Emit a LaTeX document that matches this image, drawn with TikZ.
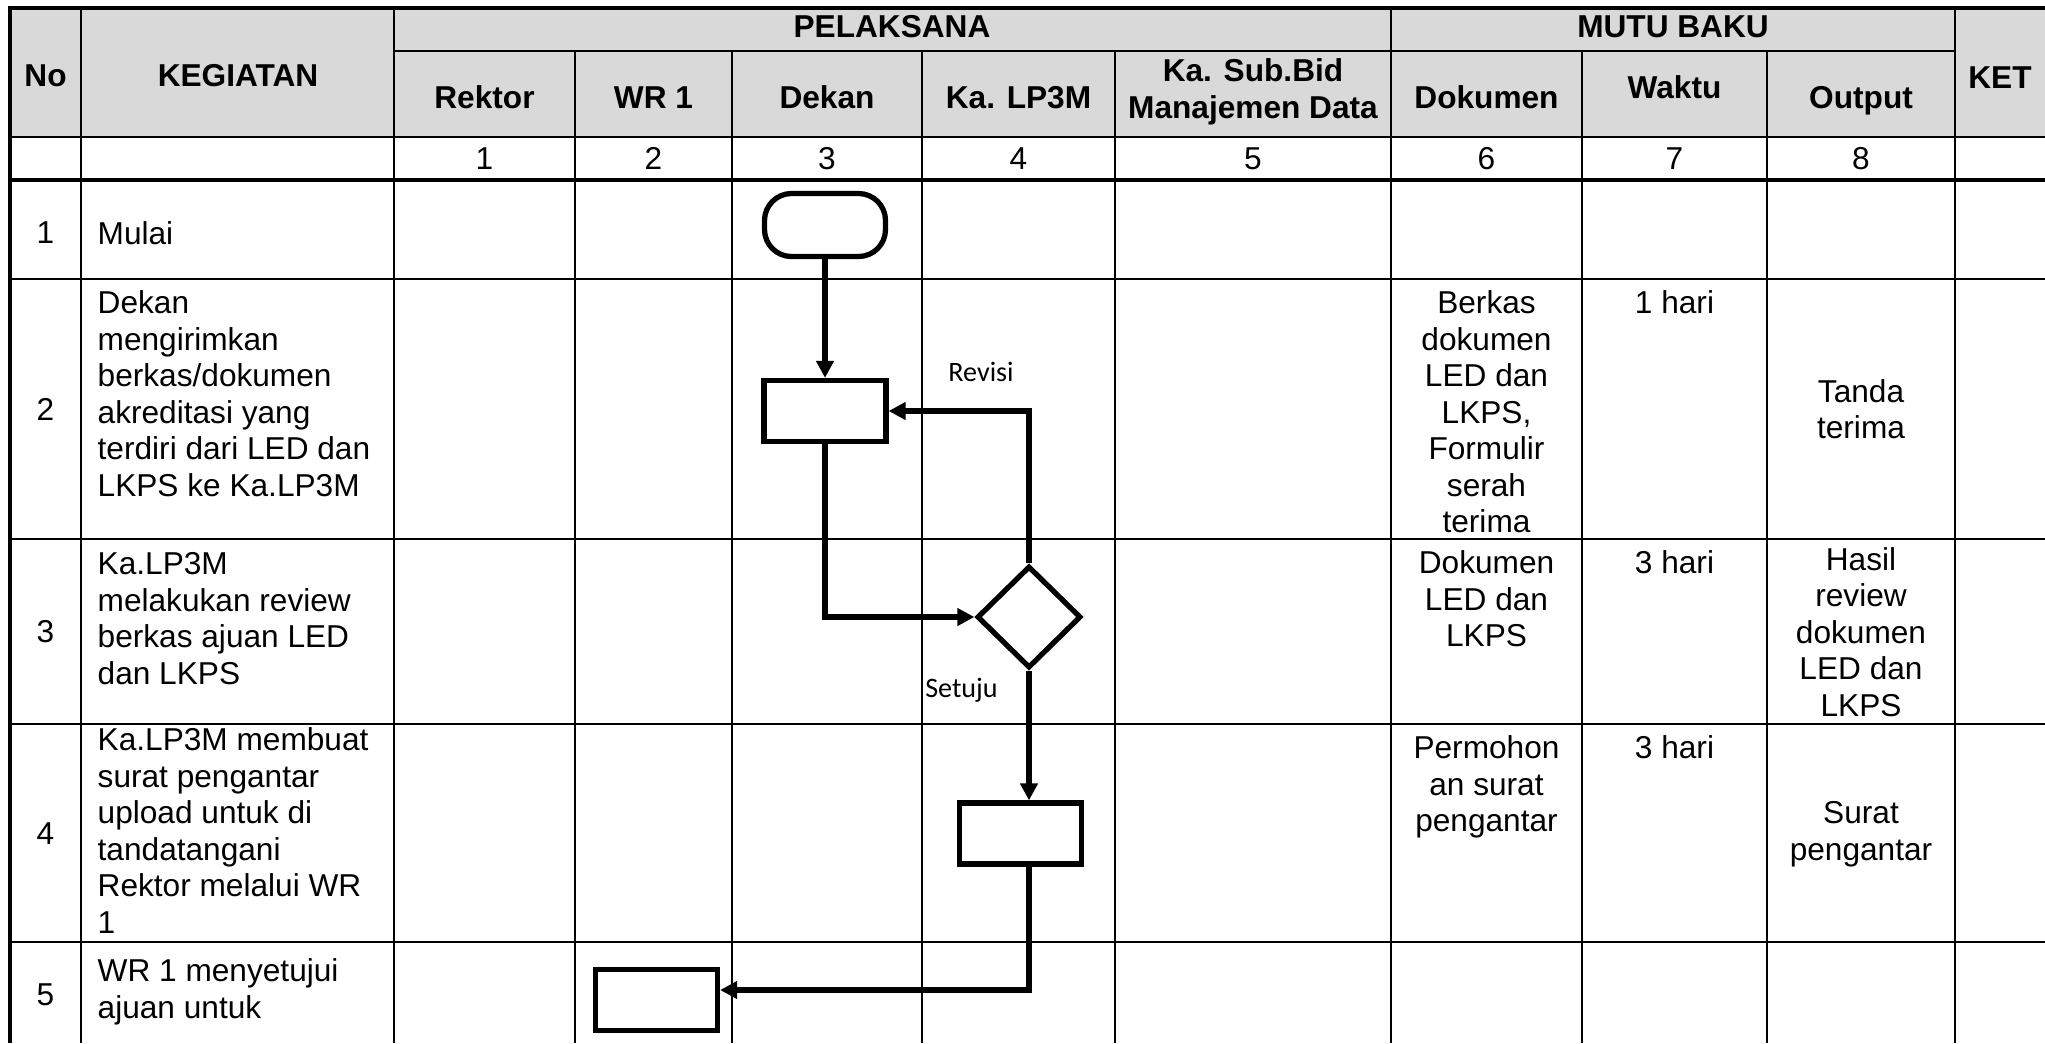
\documentclass[tikz,border=0pt]{standalone}
\usepackage{fontspec}
\setmainfont{Liberation Sans}
\newfontfamily\notefont{Carlito}
\usepackage{tikz}
\usetikzlibrary{arrows.meta, positioning, shapes.geometric}
\definecolor{sopgray}{RGB}{217,217,217}
\definecolor{sopink}{RGB}{0,0,0}
\tikzset{
  headtext/.style={
    font=\fontsize{9}{10.6}\selectfont\bfseries,
    align=center,
    inner sep=0pt,
    text=sopink
  },
  celltext/.style={
    font=\fontsize{9}{10.4}\selectfont,
    align=left,
    inner sep=0pt,
    text=sopink
  },
  midtext/.style={
    font=\fontsize{9}{10.4}\selectfont,
    align=center,
    inner sep=0pt,
    text=sopink
  },
  notetext/.style={font=\notefont\fontsize{8}{9.6}\selectfont, inner sep=0pt, text=sopink},
  gridline/.style={line width=0.75pt, draw=sopink},
  frameline/.style={line width=1.2pt, draw=sopink},
  procbox/.style={
    draw=sopink,
    line width=1.5pt,
    fill=white,
    minimum width=12.2mm,
    minimum height=6.1mm,
    inner sep=0pt
  },
  startbox/.style={procbox, rounded corners=2.7mm, minimum width=12.1mm, minimum height=6.3mm},
  decision/.style={
    draw=sopink,
    line width=1.5pt,
    fill=white,
    shape=diamond,
    minimum width=10.4mm,
    minimum height=10.2mm,
    inner sep=0pt
  },
  arrow/.style={-{Triangle[length=1.7mm, width=1.7mm]}, line width=1.5pt, draw=sopink}
}

\begin{document}
\begin{tikzpicture}[x=0.1mm, y=-0.1mm]
    \useasboundingbox (0,0) rectangle (2045,1043);
    \fill[sopgray] (10,8) rectangle (2045,137);

    % table grid
    \draw[gridline] (394,51) -- (1955,51);
    \draw[gridline] (10,137) -- (2045,137);
    \draw[gridline, line width=1pt] (10,180) -- (2045,180);
    \draw[gridline] (10,279) -- (2045,279);
    \draw[gridline] (10,539) -- (2045,539);
    \draw[gridline] (10,724) -- (2045,724);
    \draw[gridline] (10,942) -- (2045,942);
    \draw[gridline] (81,8) -- (81,1043);
    \draw[gridline] (394,8) -- (394,1043);
    \draw[gridline] (575,51) -- (575,1043);
    \draw[gridline] (732,51) -- (732,1043);
    \draw[gridline] (922,51) -- (922,1043);
    \draw[gridline] (1115,51) -- (1115,1043);
    \draw[gridline] (1391,8) -- (1391,1043);
    \draw[gridline] (1582,51) -- (1582,1043);
    \draw[gridline] (1767,51) -- (1767,1043);
    \draw[gridline] (1955,8) -- (1955,1043);
    \draw[frameline] (10,1043) -- (10,8) -- (2045,8);

    % header
    \node[headtext, anchor=base] (hno) at (45.5,86) {No};
    \node[headtext, anchor=base] (hkeg) at (238,86) {KEGIATAN};
    \node[headtext, anchor=base] (hket) at (2000,88) {KET};
    \node[headtext, anchor=base] (hpel) at (892,37.5) {PELAKSANA};
    \node[headtext, anchor=base] (hmutu) at (1673,37.5) {MUTU BAKU};
    \node[headtext, anchor=base] (hrektor) at (484.5,108) {Rektor};
    \node[headtext, anchor=base] (hwr) at (653.5,108) {WR 1};
    \node[headtext, anchor=base] (hdekan) at (827,108) {Dekan};
    \node[headtext, anchor=base] (hlp) at (1018.5,108) {Ka. LP3M};
    \node[headtext] (hsub) at (1253,92) {Ka. Sub.Bid\\Manajemen Data};
    \node[headtext, anchor=base] (hdok) at (1486.5,108) {Dokumen};
    \node[headtext, anchor=base] (hwaktu) at (1674.5,98) {Waktu};
    \node[headtext, anchor=base] (hout) at (1861,108) {Output};

    \node[midtext, anchor=base] (c1) at (484.5,169) {1};
    \node[midtext, anchor=base] (c2) at (653.5,169) {2};
    \node[midtext, anchor=base] (c3) at (827,169) {3};
    \node[midtext, anchor=base] (c4) at (1018.5,169) {4};
    \node[midtext, anchor=base] (c5) at (1253,169) {5};
    \node[midtext, anchor=base] (c6) at (1486.5,169) {6};
    \node[midtext, anchor=base] (c7) at (1674.5,169) {7};
    \node[midtext, anchor=base] (c8) at (1861,169) {8};

    % rows
    \node[midtext] (no1) at (45.5,233) {1};
    \node[midtext] (no2) at (45.5,409) {2};
    \node[midtext] (no3) at (45.5,632) {3};
    \node[midtext] (no4) at (45.5,834) {4};
    \node[midtext] (no5) at (45.5,995) {5};

    \node[celltext, anchor=west] (keg1) at (97,233) {Mulai};
    \node[celltext, anchor=north west] (keg2) at (97,290) {Dekan\\mengirimkan\\berkas/dokumen\\akreditasi yang\\terdiri dari LED dan\\LKPS ke Ka.LP3M};
    \node[celltext, anchor=north west] (keg3) at (97,552) {Ka.LP3M\\melakukan review\\berkas ajuan LED\\dan LKPS};
    \node[celltext, anchor=north west] (keg4) at (97,727) {Ka.LP3M membuat\\surat pengantar\\upload untuk di\\tandatangani\\Rektor melalui WR\\1};
    \node[celltext, anchor=north west] (keg5) at (97,958) {WR 1 menyetujui\\ajuan untuk};

    \node[midtext, anchor=north] (dok2) at (1486.5,290) {Berkas\\dokumen\\LED dan\\LKPS,\\Formulir\\serah\\terima};
    \node[midtext, anchor=north] (wkt2) at (1674.5,290) {1 hari};
    \node[midtext] (out2) at (1861,409) {Tanda\\terima};
    \node[midtext, anchor=north] (dok3) at (1486.5,550) {Dokumen\\LED dan\\LKPS};
    \node[midtext, anchor=north] (wkt3) at (1674.5,550) {3 hari};
    \node[midtext] (out3) at (1861,632) {Hasil\\review\\dokumen\\LED dan\\LKPS};
    \node[midtext, anchor=north] (dok4) at (1486.5,735) {Permohon\\an surat\\pengantar};
    \node[midtext, anchor=north] (wkt4) at (1674.5,735) {3 hari};
    \node[midtext] (out4) at (1861,834) {Surat\\pengantar};

    % flow
    \node[startbox] (mulai) at (825,225) {};
    \node[procbox] (kirim) at (825,411) {};
    \node[decision] (review) at (1029,617) {};
    \node[procbox] (surat) at (1020.5,833.5) {};
    \node[procbox] (setuju) at (656.5,1000) {};
    \coordinate (wrin) at ([yshift=1mm]setuju.east);

    \draw[arrow] (mulai) -- (kirim);
    \draw[arrow] (kirim.south) |- (review.west);
    \draw[arrow] (review.north) |- (kirim.east);
    \draw[arrow] (review.south) -- (review.south |- surat.north);
    \draw[arrow] (review.south |- surat.south) |- (wrin);

    \node[notetext] (revisi) at (981,372) {Revisi};
    \node[notetext] (oke) at (961.5,690) {Setuju};
  \end{tikzpicture}
\end{document}
